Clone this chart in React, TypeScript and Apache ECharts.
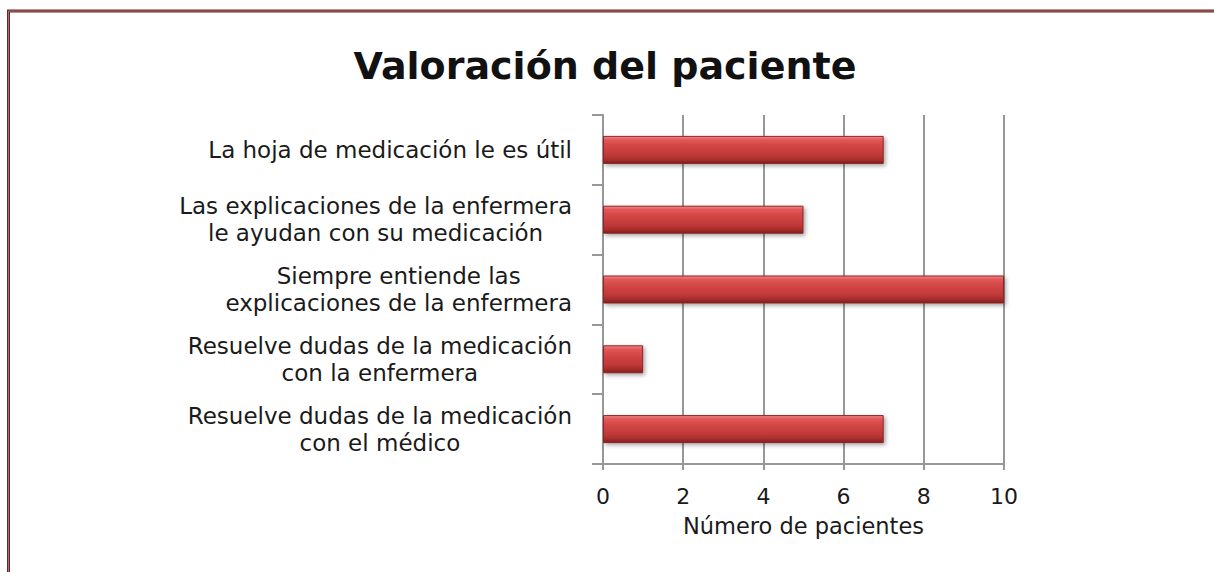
import React, { useEffect, useRef } from "react";
import * as echarts from "echarts";

const categories: string[] = [
  "La hoja de medicación le es útil",
  "Las explicaciones de la enfermera\nle ayudan con su medicación",
  "Siempre entiende las\nexplicaciones de la enfermera",
  "Resuelve dudas de la medicación\ncon la enfermera",
  "Resuelve dudas de la medicación\ncon el médico",
];
const patientCounts: number[] = [7, 5, 10, 1, 7];
const xMin = 0;
const xMax = 10;
const xInterval = 2;
const titleText = "Valoración del paciente";
const xAxisName = "Número de pacientes";

const FONT = "DejaVu Sans";

export default function App() {
  const ref = useRef<HTMLDivElement>(null);
  useEffect(() => {
    if (!ref.current) return;
    const chart = echarts.init(ref.current, null, { renderer: "svg" });
    const gray = "#979797";
    chart.setOption({
      animation: false,
      backgroundColor: "#ffffff",
      title: {
        text: titleText,
        left: 600,
        top: 42,
        textAlign: "center",
        textStyle: {
          fontFamily: FONT,
          fontWeight: "bold",
          fontSize: 38,
          color: "#111111",
        },
      },
      graphic: [
        {
          type: "rect",
          shape: { x: 8.5, y: 11, width: 1300, height: 700 },
          style: { fill: "none", stroke: "#6a2626", lineWidth: 3 },
          silent: true,
        },
        {
          type: "rect",
          shape: { x: 8.5, y: 11, width: 1300, height: 700 },
          style: { fill: "none", stroke: "#a87070", lineWidth: 1 },
          silent: true,
        },
      ],
      grid: { left: 603, right: 210, top: 115, bottom: 108, containLabel: false },
      xAxis: {
        type: "value",
        min: xMin,
        max: xMax,
        interval: xInterval,
        name: xAxisName,
        nameLocation: "middle",
        nameGap: 50,
        nameTextStyle: { fontFamily: FONT, fontSize: 22.5, color: "#1a1a1a" },
        axisLine: { show: true, lineStyle: { color: gray, width: 2 } },
        axisTick: { show: true, length: 6, lineStyle: { color: gray, width: 2 } },
        axisLabel: {
          margin: 21,
          fontFamily: FONT,
          fontSize: 22,
          color: "#1a1a1a",
        },
        splitLine: { show: true, lineStyle: { color: gray, width: 2 } },
      },
      yAxis: {
        type: "category",
        data: categories,
        inverse: true,
        axisLine: { show: true, lineStyle: { color: gray, width: 2 } },
        axisTick: { show: true, length: 11, lineStyle: { color: gray, width: 2 } },
        axisLabel: {
          margin: 31,
          fontFamily: FONT,
          fontSize: 23,
          color: "#1a1a1a",
          lineHeight: 27,
          formatter: (v: string) =>
            v
              .split("\n")
              .map((l) => `{c|${l}}`)
              .join("\n"),
          rich: {
            c: {
              align: "center",
              fontFamily: FONT,
              fontSize: 23,
              lineHeight: 27,
              color: "#1a1a1a",
            },
          },
        },
      },
      series: [
        {
          type: "bar",
          data: patientCounts,
          barWidth: 28,
          itemStyle: {
            color: new echarts.graphic.LinearGradient(0, 0, 0, 1, [
              { offset: 0, color: "#f28a8a" },
              { offset: 0.12, color: "#e25858" },
              { offset: 0.35, color: "#d44646" },
              { offset: 0.7, color: "#c03838" },
              { offset: 0.9, color: "#a02a2a" },
              { offset: 1, color: "#7a1c1c" },
            ]),
            borderColor: "#8a2525",
            borderWidth: 1,
            shadowBlur: 4,
            shadowOffsetX: 2,
            shadowOffsetY: 2,
            shadowColor: "rgba(0,0,0,0.35)",
          },
        },
      ],
    });
    return () => chart.dispose();
  }, []);
  return (
    <div
      ref={ref}
      style={{ position: "fixed", left: 0, top: 0, width: 1214, height: 572 }}
    />
  );
}
